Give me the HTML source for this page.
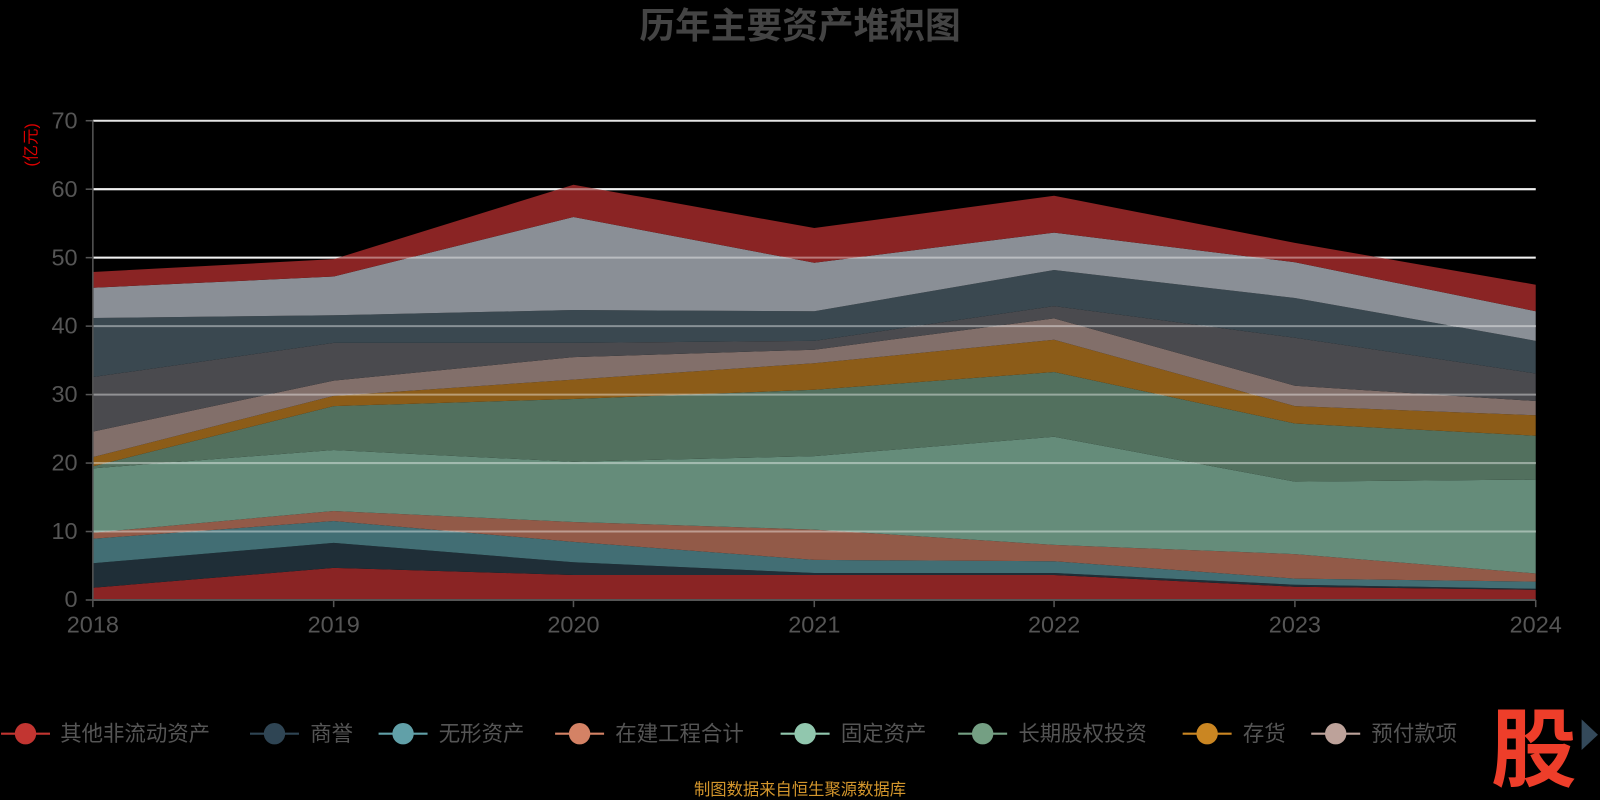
<!DOCTYPE html>
<html><head><meta charset="utf-8"><style>
html,body{margin:0;padding:0;background:#000;}
svg{display:block;}
text{font-family:"Liberation Sans","Noto Sans CJK SC",sans-serif;}
</style></head><body>
<svg width="1600" height="800" viewBox="0 0 1568 784" xmlns="http://www.w3.org/2000/svg">
<rect width="1568" height="784" fill="#000"/>
<text x="784" y="37" text-anchor="middle" font-size="35" font-weight="bold" fill="#444">历年主要资产堆积图</text>
<g stroke="#e6e6e6" stroke-width="2">
<line x1="91" x2="1505" y1="118.3" y2="118.3"/><line x1="91" x2="1505" y1="185.4" y2="185.4"/>
<line x1="91" x2="1505" y1="252.5" y2="252.5"/><line x1="91" x2="1505" y1="319.6" y2="319.6"/>
<line x1="91" x2="1505" y1="386.7" y2="386.7"/><line x1="91" x2="1505" y1="453.8" y2="453.8"/>
<line x1="91" x2="1505" y1="520.9" y2="520.9"/>
</g>
<g id="areas" stroke="none">
<polygon fill="#8a2424" points="91,576 327,556.5 562,563.5 798,563.5 1033,563.5 1269,575 1505,578 1505,588 91,588"/>
<polygon fill="#1f2e37" points="91,552 327,532 562,551 798,561.6 1033,561.6 1269,573 1505,577 1505,578 1269,575 1033,563.5 798,563.5 562,563.5 327,556.5 91,576"/>
<polygon fill="#426e74" points="91,528 327,510.6 562,531 798,548.7 1033,550 1269,567 1505,570 1505,577 1269,573 1033,561.6 798,561.6 562,551 327,532 91,552"/>
<polygon fill="#925a48" points="91,522 327,500.8 562,511.5 798,519 1033,534 1269,543 1505,562 1505,570 1269,567 1033,550 798,548.7 562,531 327,510.6 91,528"/>
<polygon fill="#658c7a" points="91,459 327,441 562,452.5 798,447 1033,428 1269,472 1505,470 1505,562 1269,543 1033,534 798,519 562,511.5 327,500.8 91,522"/>
<polygon fill="#52705e" points="91,457 327,398 562,391 798,382 1033,364.6 1269,415 1505,427 1505,470 1269,472 1033,428 798,447 562,452.5 327,441 91,459"/>
<polygon fill="#8c5c18" points="91,448 327,388 562,372 798,356 1033,333 1269,398 1505,407 1505,427 1269,415 1033,364.6 798,382 562,391 327,398 91,457"/>
<polygon fill="#826f6a" points="91,423 327,373 562,350 798,342.7 1033,312 1269,378 1505,393 1505,407 1269,398 1033,333 798,356 562,372 327,388 91,448"/>
<polygon fill="#4a4a4e" points="91,369.5 327,336 562,336 798,334 1033,300 1269,331 1505,366 1505,393 1269,378 1033,312 798,342.7 562,350 327,373 91,423"/>
<polygon fill="#3a4850" points="91,311.6 327,309 562,303.8 798,305 1033,264.6 1269,292 1505,334 1505,366 1269,331 1033,300 798,334 562,336 327,336 91,369.5"/>
<polygon fill="#8a8f96" points="91,282 327,271 562,212.7 798,257.5 1033,228 1269,257 1505,305 1505,334 1269,292 1033,264.6 798,305 562,303.8 327,309 91,311.6"/>
<polygon fill="#8a2424" points="91,266.5 327,254 562,181 798,223.5 1033,191.8 1269,238 1505,279 1505,305 1269,257 1033,228 798,257.5 562,212.7 327,271 91,282"/>
</g>
<g stroke="rgba(255,255,255,0.4)" stroke-width="2">
<line x1="91" x2="1505" y1="185.4" y2="185.4"/><line x1="91" x2="1505" y1="252.5" y2="252.5"/>
<line x1="91" x2="1505" y1="319.6" y2="319.6"/><line x1="91" x2="1505" y1="386.7" y2="386.7"/>
<line x1="91" x2="1505" y1="453.8" y2="453.8"/><line x1="91" x2="1505" y1="520.9" y2="520.9"/>
</g>
<line x1="91" x2="91" y1="118" y2="588" stroke="#555" stroke-width="1.5"/>
<line x1="91" x2="1505" y1="588" y2="588" stroke="#555" stroke-width="2"/>
<g stroke="#555" stroke-width="1.5">
<line x1="84" x2="91" y1="588" y2="588"/><line x1="84" x2="91" y1="520.9" y2="520.9"/><line x1="84" x2="91" y1="453.8" y2="453.8"/>
<line x1="84" x2="91" y1="386.7" y2="386.7"/><line x1="84" x2="91" y1="319.6" y2="319.6"/><line x1="84" x2="91" y1="252.5" y2="252.5"/>
<line x1="84" x2="91" y1="185.4" y2="185.4"/><line x1="84" x2="91" y1="118.3" y2="118.3"/>
<line x1="91" x2="91" y1="588" y2="595"/><line x1="327" x2="327" y1="588" y2="595"/><line x1="562" x2="562" y1="588" y2="595"/>
<line x1="798" x2="798" y1="588" y2="595"/><line x1="1033" x2="1033" y1="588" y2="595"/><line x1="1269" x2="1269" y1="588" y2="595"/><line x1="1505" x2="1505" y1="588" y2="595"/>
</g>
<g font-size="23" fill="#555" text-anchor="end">
<text x="76" y="595">0</text><text x="76" y="528">10</text><text x="76" y="461">20</text><text x="76" y="394">30</text>
<text x="76" y="327">40</text><text x="76" y="260">50</text><text x="76" y="193">60</text><text x="76" y="126">70</text>
</g>
<g font-size="23" fill="#555" text-anchor="middle">
<text x="91" y="620">2018</text><text x="327" y="620">2019</text><text x="562" y="620">2020</text><text x="798" y="620">2021</text>
<text x="1033" y="620">2022</text><text x="1269" y="620">2023</text><text x="1505" y="620">2024</text>
</g>
<text transform="translate(36,142) rotate(-90)" text-anchor="middle" font-size="16" fill="#d00">(亿元)</text>
<g font-size="21" fill="#555">
<line x1="1" x2="49" y1="719" y2="719" stroke="#c23531" stroke-width="2"/><circle cx="25" cy="719" r="10.5" fill="#c23531"/><text x="59" y="726">其他非流动资产</text>
<line x1="245" x2="293" y1="719" y2="719" stroke="#2f4554" stroke-width="2"/><circle cx="269" cy="719" r="10.5" fill="#2f4554"/><text x="304" y="726">商誉</text>
<line x1="371" x2="419" y1="719" y2="719" stroke="#61a0a8" stroke-width="2"/><circle cx="395" cy="719" r="10.5" fill="#61a0a8"/><text x="430" y="726">无形资产</text>
<line x1="544" x2="592" y1="719" y2="719" stroke="#d48265" stroke-width="2"/><circle cx="568" cy="719" r="10.5" fill="#d48265"/><text x="603" y="726">在建工程合计</text>
<line x1="765" x2="813" y1="719" y2="719" stroke="#91c7ae" stroke-width="2"/><circle cx="789" cy="719" r="10.5" fill="#91c7ae"/><text x="824" y="726">固定资产</text>
<line x1="939" x2="987" y1="719" y2="719" stroke="#749f83" stroke-width="2"/><circle cx="963" cy="719" r="10.5" fill="#749f83"/><text x="998" y="726">长期股权投资</text>
<line x1="1159" x2="1207" y1="719" y2="719" stroke="#ca8622" stroke-width="2"/><circle cx="1183" cy="719" r="10.5" fill="#ca8622"/><text x="1218" y="726">存货</text>
<line x1="1285" x2="1333" y1="719" y2="719" stroke="#bda29a" stroke-width="2"/><circle cx="1309" cy="719" r="10.5" fill="#bda29a"/><text x="1344" y="726">预付款项</text>
</g>
<text x="1503" y="764" text-anchor="middle" font-size="84" font-weight="bold" fill="#ee3e2a">股</text>
<polygon points="1550,705 1566,720 1550,735" fill="#34495a"/>
<text x="784" y="779" text-anchor="middle" font-size="16" fill="#d4962c">制图数据来自恒生聚源数据库</text>
</svg>
</body></html>
